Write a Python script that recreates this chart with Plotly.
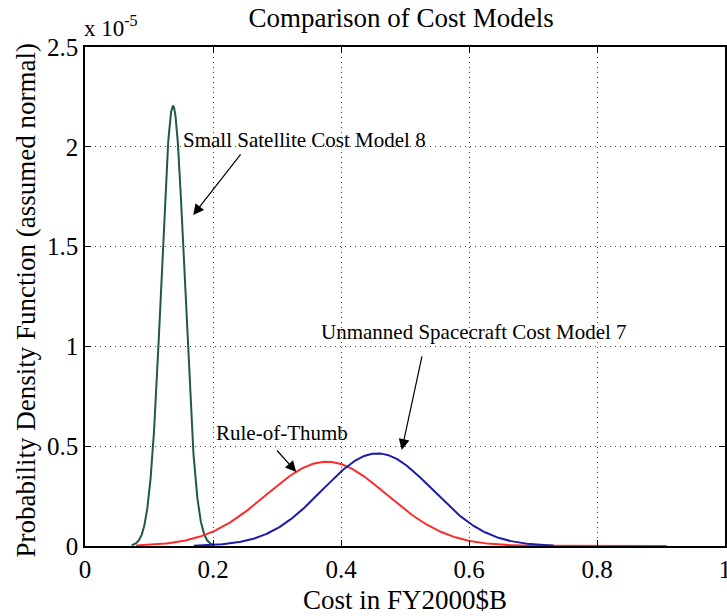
import numpy as np
import plotly.graph_objects as go

# Cost models, each as an assumed-normal distribution (cost in FY2000 $B)
model_names = ["Small Satellite Cost Model 8", "Rule-of-Thumb", "Unmanned Spacecraft Cost Model 7"]
model_means = [0.1375, 0.3775, 0.457]
model_sigmas = [0.0181, 0.0945, 0.0860]
model_x_start = [0.073, 0.08, 0.17]
model_x_end = [0.20, 0.909, 0.732]
model_colors = ["#1e5a46", "#ff2a2a", "#1c1ca8"]
pdf_scale = 1e-6  # density per dollar

x_tick_vals = [0, 0.2, 0.4, 0.6, 0.8, 1]
x_tick_text = ["0", "0.2", "0.4", "0.6", "0.8", "1"]
y_tick_vals = [0, 0.5e-5, 1e-5, 1.5e-5, 2e-5, 2.5e-5]
y_tick_text = ["0", "0.5", "1", "1.5", "2", "2.5"]

FONT = "Liberation Serif"

fig = go.Figure()
for name, mu, sd, x0, x1, col in zip(model_names, model_means, model_sigmas,
                                      model_x_start, model_x_end, model_colors):
    x = np.linspace(x0, x1, 400)
    y = pdf_scale * np.exp(-0.5 * ((x - mu) / sd) ** 2) / (np.sqrt(2 * np.pi) * sd)
    fig.add_trace(go.Scatter(x=x, y=y, mode="lines", name=name,
                             line=dict(color=col, width=2), showlegend=False))

# labels with pointer arrows
label_text = ["Small Satellite Cost Model 8", "Unmanned Spacecraft Cost Model 7", "Rule-of-Thumb"]
label_x = [0.150, 0.366, 0.201]
label_y = [2.034e-5, 1.072e-5, 0.566e-5]
arrow_tail_x = [0.245, 0.527, 0.298]
arrow_tail_y = [1.969e-5, 0.957e-5, 0.486e-5]
arrow_head_x = [0.169, 0.495, 0.330]
arrow_head_y = [1.658e-5, 0.481e-5, 0.371e-5]

annotations = []
for t, lx, ly in zip(label_text, label_x, label_y):
    annotations.append(dict(x=lx, y=ly, xref="x", yref="y", text=t, showarrow=False,
                            xanchor="left", yanchor="middle",
                            font=dict(family=FONT, size=21, color="black")))
for tx, ty, hx, hy in zip(arrow_tail_x, arrow_tail_y, arrow_head_x, arrow_head_y):
    annotations.append(dict(x=hx, y=hy, ax=tx, ay=ty, xref="x", yref="y",
                            axref="x", ayref="y", text="", showarrow=True,
                            arrowhead=2, arrowsize=1.8, arrowwidth=1.2,
                            arrowcolor="black"))

# axis exponent, axis titles
annotations.append(dict(x=0, y=1, xref="paper", yref="paper", text="x 10<sup>-5</sup>",
                        showarrow=False, xanchor="left", yanchor="bottom",
                        xshift=-3, yshift=4,
                        font=dict(family=FONT, size=23, color="black")))
annotations.append(dict(x=0, y=0.5, xref="paper", yref="paper",
                        text="Probability Density Function (assumed normal)",
                        showarrow=False, textangle=-90, xanchor="center", yanchor="middle",
                        xshift=-60, yshift=-4,
                        font=dict(family=FONT, size=27, color="black")))
annotations.append(dict(x=0.5, y=0, xref="paper", yref="paper",
                        text="Cost in FY2000$B",
                        showarrow=False, xanchor="center", yanchor="middle",
                        yshift=-54,
                        font=dict(family=FONT, size=27, color="black")))

fig.update_layout(
    width=727, height=616,
    margin=dict(l=85, r=2, t=47, b=70, autoexpand=False),
    paper_bgcolor="white", plot_bgcolor="white",
    font=dict(family=FONT, size=25, color="black"),
    title=dict(text="Comparison of Cost Models", x=0.494, xanchor="center",
               y=0.971, yanchor="middle", xref="paper",
               font=dict(family=FONT, size=27, color="black")),
    annotations=annotations,
)
fig.update_xaxes(range=[0, 1], tickvals=x_tick_vals, ticktext=x_tick_text,
                 showline=True, linecolor="black", linewidth=1.5, mirror="allticks",
                 ticks="inside", ticklen=6, tickcolor="black",
                 ticklabeloverflow="allow", automargin=False,
                 showgrid=True, gridcolor="#444444", gridwidth=1, griddash="1px,4px",
                 zeroline=False)
fig.update_yaxes(range=[0, 2.5e-5], tickvals=y_tick_vals, ticktext=y_tick_text,
                 showline=True, linecolor="black", linewidth=1.5, mirror="allticks",
                 ticks="inside", ticklen=6, tickcolor="black",
                 ticklabeloverflow="allow", automargin=False,
                 showgrid=True, gridcolor="#444444", gridwidth=1, griddash="1px,4px",
                 zeroline=False)

fig.write_html("out.html")
